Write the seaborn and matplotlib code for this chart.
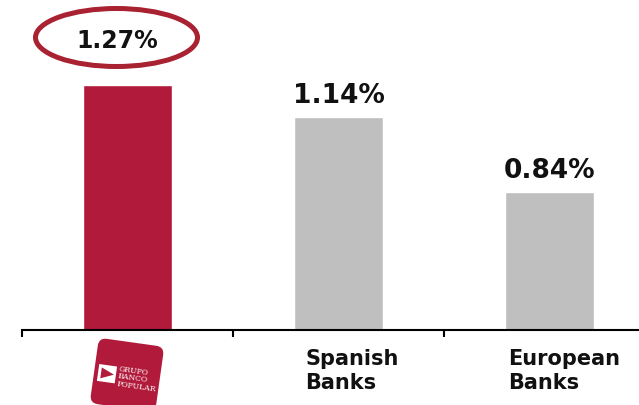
import matplotlib
matplotlib.use("Agg")
import matplotlib.pyplot as plt
import matplotlib.transforms as mtransforms
from matplotlib.patches import Ellipse, FancyBboxPatch, Rectangle, Polygon
import seaborn as sns
import pandas as pd

# Data
categories = ["Grupo Banco Popular", "Spanish\nBanks", "European\nBanks"]
values = [1.27, 1.14, 0.84]
value_labels = ["1.27%", "1.14%", "0.84%"]
logo_lines = ["GRUPO", "BANCO", "POPULAR"]

RED = "#B11A3B"
GRAY = "#BFBFBF"
RING = "#A82232"

sns.set_theme(style="white")
plt.rcParams["font.family"] = ["DejaVu Sans"]

W, H = 639, 406
fig = plt.figure(figsize=(W / 100, H / 100), dpi=100)
ax = fig.add_axes([22 / W, 75 / H, 633 / W, 331 / H])

df = pd.DataFrame({"cat": categories, "val": values})
sns.barplot(data=df, x="cat", y="val", hue="cat", palette=[RED, GRAY, GRAY],
            width=0.42, legend=False, ax=ax, saturation=1)

ax.set_xlim(-0.5, 2.5)
ax.set_ylim(0.285, 1.615)
ax.set_xlabel("")
ax.set_ylabel("")
ax.set_yticks([])
ax.set_xticks([-0.5, 0.5, 1.5, 2.5])
ax.set_xticklabels([])
ax.tick_params(axis="x", direction="out", length=5, width=1.5, color="black", bottom=True)
for s in ["left", "right", "top"]:
    ax.spines[s].set_visible(False)
ax.spines["bottom"].set_color("black")
ax.spines["bottom"].set_linewidth(1.5)

# Value labels above bars
for i, (v, lab) in enumerate(zip(values, value_labels)):
    if i == 0:
        ax.annotate(lab, xy=(i, v), xytext=(-7.2, 27.5), textcoords="offset points",
                    ha="center", va="baseline", fontsize=17, fontweight="bold", color="#111111")
    else:
        ax.annotate(lab, xy=(i, v), xytext=(0, 10.8), textcoords="offset points",
                    ha="center", va="baseline", fontsize=19, fontweight="bold", color="#111111")

# Ring around the highlighted value
px = fig.dpi_scale_trans
ring = Ellipse((116.5 / 100, (H - 38.5) / 100), 1.62, 0.58, fill=False,
               edgecolor=RING, linewidth=3.6, transform=px)
fig.add_artist(ring)

# Category labels under the axis
xform = mtransforms.blended_transform_factory(ax.transData, ax.transAxes)
label_dx = {1: -23.8, 2: -29.5}
for i in (1, 2):
    ax.annotate(categories[i], xy=(i, 0), xycoords=xform, xytext=(label_dx[i], -13),
                textcoords="offset points", ha="left", va="top", fontsize=15,
                fontweight="bold", color="#111111", linespacing=1.25,
                annotation_clip=False)

# Logo badge under the first bar
cx, cy = 127 / 100, (H - 376) / 100
rot = mtransforms.Affine2D().rotate_deg_around(cx, cy, -8) + px
bw, bh = 0.66, 0.66
badge = FancyBboxPatch((cx - bw / 2, cy - bh / 2), bw, bh,
                       boxstyle="round,pad=0,rounding_size=0.08",
                       facecolor=RED, edgecolor="none", transform=rot)
fig.add_artist(badge)
# flag icon: white panel with a red pointer
ix, iy = cx - 0.29, cy - 0.10
fig.add_artist(Rectangle((ix, iy), 0.18, 0.17, facecolor="white", edgecolor="none", transform=rot))
fig.add_artist(Polygon([(ix + 0.03, iy + 0.14), (ix + 0.16, iy + 0.085), (ix + 0.03, iy + 0.03)],
                       closed=True, facecolor=RED, edgecolor="none", transform=rot))
for k, t in enumerate(logo_lines):
    fig.text(cx - 0.09, cy + 0.06 - k * 0.075, t, transform=rot, fontsize=5.6,
             family="DejaVu Serif", color="white", rotation=-8, rotation_mode="anchor",
             ha="left", va="center")

fig.savefig("out.png", dpi=100)
